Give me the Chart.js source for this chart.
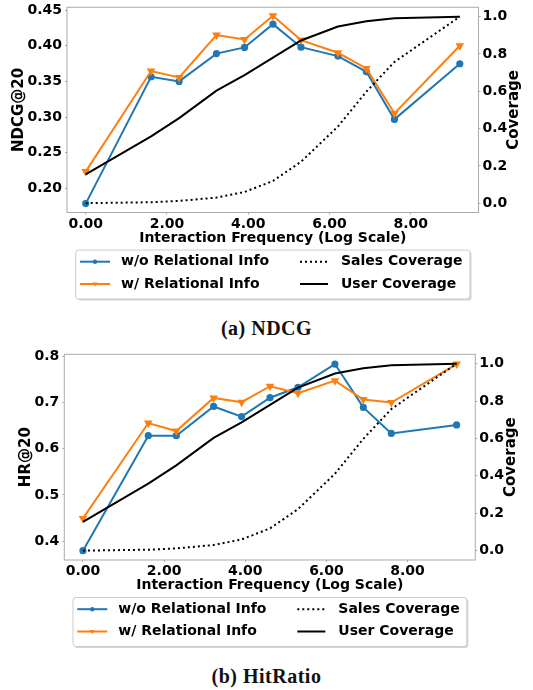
<!DOCTYPE html>
<html>
<head>
<meta charset="utf-8">
<script src="https://cdn.jsdelivr.net/npm/chart.js@4.4.1/dist/chart.umd.min.js"></script>
<style>
  body { margin: 0; background: #fff; }
  #page { position: relative; width: 533px; height: 690px; background: #fff; }
  canvas { position: absolute; left: 0; }
  .caption {
    position: absolute; left: 0; width: 533px; text-align: center;
    font-family: "Liberation Serif", serif; font-weight: bold;
    font-size: 20px; line-height: 24px; letter-spacing: 0.5px; color: #111;
  }
</style>
</head>
<body>
<div id="page">
  <canvas id="ndcgChart" width="533" height="305" style="top:0"></canvas>
  <div class="caption" style="top:316px">(a) NDCG</div>
  <canvas id="hrChart" width="533" height="312" style="top:340px"></canvas>
  <div class="caption" style="top:664px">(b) HitRatio</div>
</div>
<script>
// interaction frequency, log scale (ln of 1, 5, 10, 25, 50, 100, 200, 500, 1000, 2000, 10000)
const freqX = [0, 1.61, 2.30, 3.22, 3.91, 4.61, 5.30, 6.21, 6.91, 7.60, 9.21];
const xTickValues = [0, 2, 4, 6, 8];

const ndcgWithout = [0.1785, 0.3565, 0.3500, 0.3890, 0.3977, 0.4304, 0.3980, 0.3855, 0.3635, 0.2967, 0.3748];
const ndcgWith = [0.2234, 0.3645, 0.3556, 0.4150, 0.4089, 0.4421, 0.4080, 0.3902, 0.3682, 0.3051, 0.4000];
const ndcgTicks = [0.20, 0.25, 0.30, 0.35, 0.40, 0.45];

const hrWithout = [0.379, 0.6285, 0.6285, 0.692, 0.670, 0.711, 0.7337, 0.784, 0.690, 0.6335, 0.652];
const hrWith = [0.449, 0.656, 0.6386, 0.7106, 0.7013, 0.7359, 0.7207, 0.748, 0.707, 0.7005, 0.784];
const hrTicks = [0.4, 0.5, 0.6, 0.7, 0.8];

const salesCoverage = [0, 0.005, 0.012, 0.03, 0.06, 0.119, 0.222, 0.411, 0.598, 0.757, 1.0];
const userCoverage = [0.154, 0.358, 0.456, 0.603, 0.686, 0.78, 0.872, 0.947, 0.975, 0.991, 1.0];
const coverageTicks = [0, 0.2, 0.4, 0.6, 0.8, 1.0];

const BLUE = '#1f77b4';
const ORANGE = '#ff7f0e';
const FRAME = '#aaaaaa';
const FONT = '"DejaVu Sans", sans-serif';

const toPoints = (ys) => freqX.map((x, i) => ({ x, y: ys[i] }));

// frame, y-axis titles and the two-column boxed legend
const decorPlugin = {
  id: 'decor',
  afterDraw(chart, args, opts) {
    const { ctx, chartArea: a } = chart;
    ctx.save();
    ctx.strokeStyle = FRAME;
    ctx.lineWidth = 1;
    ctx.strokeRect(a.left, a.top, a.right - a.left, a.bottom - a.top);

    // left title sits just outside the widest tick label
    ctx.font = 'bold 14px ' + FONT;
    const widest = Math.max(...chart.scales.y.ticks.map(t => ctx.measureText(t.label).width));
    const midY = (a.top + a.bottom) / 2;
    ctx.font = 'bold 15px ' + FONT;
    ctx.fillStyle = '#000';
    ctx.textAlign = 'center';
    ctx.textBaseline = 'middle';
    [[a.left - 13 - widest, opts.leftTitle], [a.right + 35.6, opts.rightTitle]].forEach(([x, txt]) => {
      ctx.save();
      ctx.translate(x, midY);
      ctx.rotate(-Math.PI / 2);
      ctx.fillText(txt, 0, 0);
      ctx.restore();
    });

    // legend box
    const bx = a.left + 8.7, by = a.bottom + 37.5;
    const bw = (a.right - 8.5) - bx, bh = 49;
    ctx.fillStyle = '#d4d4d4';
    roundRect(ctx, bx + 1.5, by + 1.5, bw, bh, 3);
    ctx.fill();
    ctx.fillStyle = '#fff';
    ctx.strokeStyle = '#cccccc';
    roundRect(ctx, bx, by, bw, bh, 3);
    ctx.fill();
    ctx.stroke();

    const colX = [bx + 4.3, bx + 224.3];
    const rowY = [by + 11.7, by + 34];
    ctx.font = 'bold 14px ' + FONT;
    ctx.textAlign = 'left';
    chart.data.datasets.forEach(ds => {
      const x0 = colX[ds.legendCol], y = rowY[ds.legendRow];
      const len = ds.legendCol === 0 ? 30 : 28;
      ctx.save();
      ctx.strokeStyle = ds.borderColor;
      ctx.lineWidth = ds.borderWidth;
      ctx.setLineDash(ds.borderDash || []);
      ctx.beginPath();
      ctx.moveTo(x0, y);
      ctx.lineTo(x0 + len, y);
      ctx.stroke();
      ctx.setLineDash([]);
      ctx.fillStyle = ds.borderColor;
      const cx = x0 + len / 2;
      if (ds.pointStyle === 'circle') {
        ctx.beginPath();
        ctx.arc(cx, y, 2.2, 0, Math.PI * 2);
        ctx.fill();
      } else if (ds.pointStyle === 'triangle') {
        ctx.beginPath();
        ctx.moveTo(cx - 2.4, y - 1.6);
        ctx.lineTo(cx + 2.4, y - 1.6);
        ctx.lineTo(cx, y + 2.4);
        ctx.closePath();
        ctx.fill();
      }
      ctx.restore();
      ctx.fillStyle = '#000';
      ctx.fillText(ds.label, x0 + 41, y);
    });
    ctx.restore();
  }
};

function roundRect(ctx, x, y, w, h, r) {
  ctx.beginPath();
  ctx.moveTo(x + r, y);
  ctx.lineTo(x + w - r, y);
  ctx.arcTo(x + w, y, x + w, y + r, r);
  ctx.lineTo(x + w, y + h - r);
  ctx.arcTo(x + w, y + h, x + w - r, y + h, r);
  ctx.lineTo(x + r, y + h);
  ctx.arcTo(x, y + h, x, y + h - r, r);
  ctx.lineTo(x, y + r);
  ctx.arcTo(x, y, x + r, y, r);
  ctx.closePath();
}

function zeroPadding(scale) {
  scale.paddingTop = 0;
  scale.paddingBottom = 0;
  scale.paddingLeft = 0;
  scale.paddingRight = 0;
}

function makeChart(id, cfg) {
  const canvas = document.getElementById(id);
  const area = cfg.area;
  const xHeight = 34;
  const tickFont = { family: FONT, size: 14, weight: 'bold' };

  return new Chart(canvas, {
    type: 'line',
    data: {
      datasets: [
        {
          label: 'User Coverage', data: toPoints(userCoverage), yAxisID: 'y1',
          borderColor: '#000', borderWidth: 2, pointRadius: 0, order: 0,
          legendCol: 1, legendRow: 1
        },
        {
          label: 'Sales Coverage', data: toPoints(salesCoverage), yAxisID: 'y1',
          borderColor: '#000', borderWidth: 2, borderDash: [2, 3], pointRadius: 0, order: 1,
          legendCol: 1, legendRow: 0
        },
        {
          label: 'w/ Relational Info', data: toPoints(cfg.withInfo), yAxisID: 'y',
          borderColor: ORANGE, backgroundColor: ORANGE, borderWidth: 2,
          pointStyle: 'triangle', rotation: 180, pointRadius: 3, order: 2,
          legendCol: 0, legendRow: 1
        },
        {
          label: 'w/o Relational Info', data: toPoints(cfg.withoutInfo), yAxisID: 'y',
          borderColor: BLUE, backgroundColor: BLUE, borderWidth: 2,
          pointStyle: 'circle', pointRadius: 2.6, order: 3,
          legendCol: 0, legendRow: 0
        }
      ]
    },
    options: {
      responsive: false,
      animation: false,
      devicePixelRatio: 1,
      layout: {
        padding: { top: area.top, left: 0, right: 0, bottom: canvas.height - area.bottom - xHeight }
      },
      elements: { line: { tension: 0 }, point: { borderWidth: 0 } },
      plugins: {
        legend: { display: false },
        tooltip: { enabled: false },
        decor: { leftTitle: cfg.yTitle, rightTitle: 'Coverage' }
      },
      scales: {
        x: {
          type: 'linear', position: 'bottom', min: -0.46, max: 9.67,
          afterBuildTicks: s => { s.ticks = xTickValues.map(v => ({ value: v })); },
          afterFit: s => { s.height = xHeight; zeroPadding(s); },
          ticks: { callback: v => v.toFixed(2), font: tickFont, color: '#000', padding: 1, maxRotation: 0, autoSkip: false },
          grid: { drawOnChartArea: false, tickLength: 2, color: FRAME },
          border: { display: false },
          title: { display: true, text: 'Interaction Frequency (Log Scale)', font: tickFont, color: '#000', padding: 0 }
        },
        y: {
          type: 'linear', position: 'left', min: cfg.yMin, max: cfg.yMax,
          afterBuildTicks: s => { s.ticks = cfg.yTicks.map(v => ({ value: v })); },
          afterFit: s => { s.width = area.left; zeroPadding(s); },
          ticks: { callback: v => v.toFixed(cfg.yDecimals), font: tickFont, color: '#000', padding: 3, autoSkip: false },
          grid: { drawOnChartArea: false, tickLength: 2, color: FRAME },
          border: { display: false }
        },
        y1: {
          type: 'linear', position: 'right', min: -0.05, max: 1.05,
          afterBuildTicks: s => { s.ticks = coverageTicks.map(v => ({ value: v })); },
          afterFit: s => { s.width = canvas.width - area.right; zeroPadding(s); },
          ticks: { callback: v => v.toFixed(1), font: tickFont, color: '#000', padding: 2, autoSkip: false },
          grid: { drawOnChartArea: false, tickLength: 2, color: FRAME },
          border: { display: false }
        }
      }
    },
    plugins: [decorPlugin]
  });
}

makeChart('ndcgChart', {
  area: { left: 67, right: 478.5, top: 7.3, bottom: 212.5 },
  withoutInfo: ndcgWithout, withInfo: ndcgWith,
  yMin: 0.166, yMax: 0.454, yTicks: ndcgTicks, yDecimals: 2, yTitle: 'NDCG@20'
});

makeChart('hrChart', {
  area: { left: 64.3, right: 475.3, top: 14.3, bottom: 220 },
  withoutInfo: hrWithout, withInfo: hrWith,
  yMin: 0.3588, yMax: 0.8052, yTicks: hrTicks, yDecimals: 1, yTitle: 'HR@20'
});
</script>
</body>
</html>
